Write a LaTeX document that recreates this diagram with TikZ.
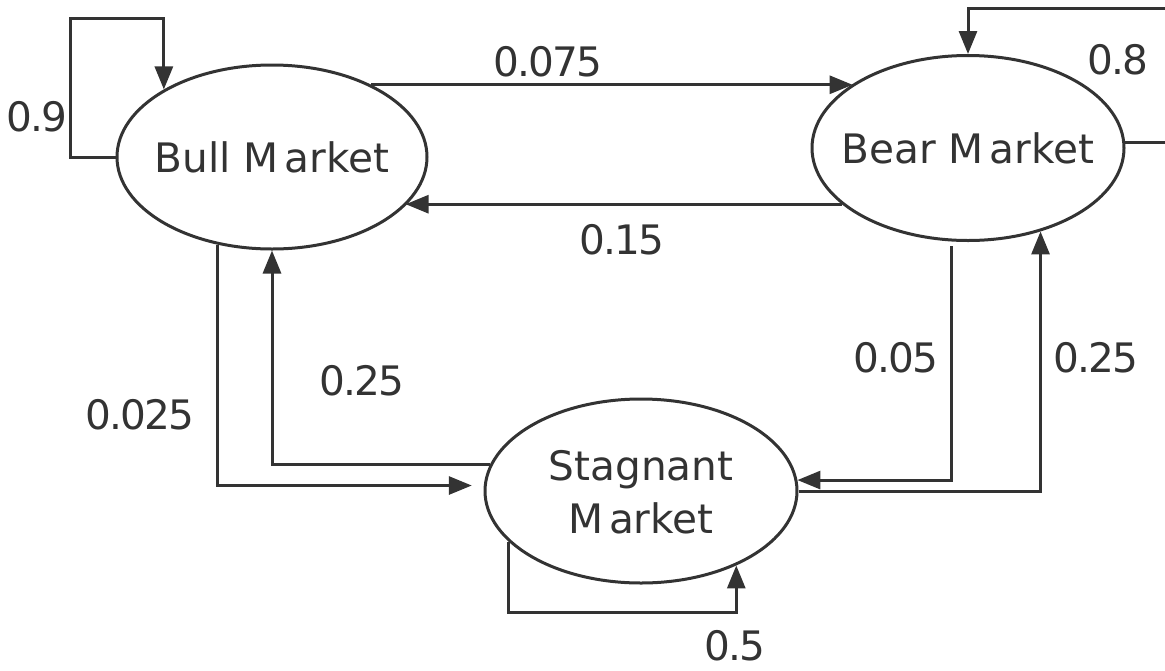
\documentclass[tikz,border=0pt]{standalone}
\usepackage{fontspec}
\setmainfont{DejaVu Sans}
\newfontfamily\numfont{DejaVu Sans}[LetterSpace=-5]
\usetikzlibrary{shapes.geometric,arrows.meta}
\definecolor{ink}{HTML}{333333}

% state names take no width, so each ellipse keeps its own size;
% the lines sit a little below the ellipse centre
\newcommand{\statename}[1]{\makebox[0pt]{\raisebox{-5pt}[\height][\depth]{\begin{tabular}{@{}c@{}}#1\end{tabular}}}}

\tikzset{
  state/.style={ellipse, draw=ink, line width=3pt, minimum width=310pt,
    minimum height=184pt, inner sep=0pt, text=ink,
    font=\fontsize{40.6}{53}\selectfont},
  link/.style={draw=ink, line width=3pt, -{Triangle[length=23pt,width=18pt]}},
  prob/.style={inner sep=0pt, text=ink, font=\numfont\fontsize{40.6}{49}\selectfont},
}

\begin{document}
\begin{tikzpicture}[x=1pt,y=-1pt]
\useasboundingbox (0,0) rectangle (1165,670);
\clip (0,0) rectangle (1165,670);

% market states
\node[state] (bull) at (272,157) {\statename{Bull M\hspace{0.14em}arket}};
\node[state, minimum width=312pt, minimum height=185pt] (bear) at (968,148) {\statename{Bear M\hspace{0.14em}arket}};
\node[state, minimum width=312pt] (stag) at (641,491) {\statename{Stagnant\\M\hspace{0.14em}arket}};

% corners of the self loops
\coordinate (bullloop) at (70,18);
\coordinate (bearloop) at (1190,8);
\coordinate (stagloop) at (600,612);

% transitions
\draw[link] (bull.west) -| (bullloop) -| (bull.148.1);
\draw[link] (bull.36.7) -- (bull.36.7 -| bear.151.1);
\draw[link] (bear.204.9) -- (bear.204.9 -| bull.340);
\draw[link, shorten >=12pt] (bull.238) |- (stag.178.5);
\draw[link] (stag.170.1) -| (bull.south);
\draw[link, shorten <=5pt] (bear.260.1) |- (stag.4.4);
\draw[link] (stag.east) -| (bear.311.3);
\draw[link] (bear.2) -| (bearloop) -| (bear.north);
\draw[link] (stag.201.8) |- (stagloop) -| (stag.322);

% transition probabilities
\node[prob] (p-bull-bull) at (37,117) {0.9};
\node[prob] (p-bull-bear) at (548,62) {0.075};
\node[prob] (p-bear-bull) at (622,240) {0.15};
\node[prob] (p-bear-bear) at (1118,60) {0.8};
\node[prob] (p-bull-stag) at (140,415) {0.025};
\node[prob] (p-stag-bull) at (362,381) {0.25};
\node[prob] (p-bear-stag) at (896,358) {0.05};
\node[prob] (p-stag-bear) at (1096,358) {0.25};
\node[prob] (p-stag-stag) at (735,646) {0.5};
\end{tikzpicture}
\end{document}
